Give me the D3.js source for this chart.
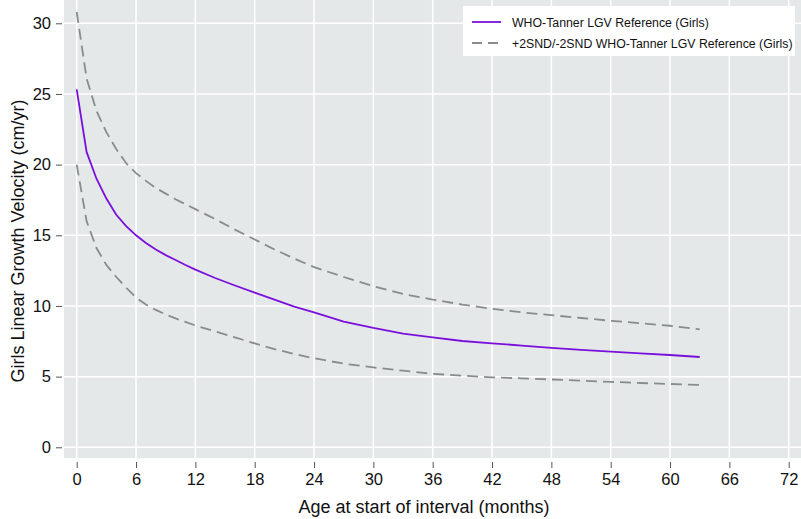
<!DOCTYPE html>
<html><head><meta charset="utf-8">
<script src="https://cdn.jsdelivr.net/npm/d3@7"></script>
<style>body{margin:0;background:#fff}svg{display:block}text{font-family:"Liberation Sans",Arial,sans-serif}</style>
</head><body>
<svg id="c" width="801" height="519"></svg>
<script>
const months = [0,1,2,3,4,5,6,7,8,9,10,11,12,14,16,18,20,22,24,27,30,33,36,39,42,45,48,51,54,57,60,63];
const median = [25.33,20.9,19.0,17.6,16.45,15.65,15.0,14.45,14.0,13.6,13.25,12.9,12.57,11.98,11.45,10.95,10.45,9.95,9.55,8.9,8.45,8.05,7.78,7.52,7.36,7.2,7.03,6.9,6.77,6.65,6.53,6.39];
const upper = [30.8,26.1,23.8,22.3,21.1,20.1,19.4,18.85,18.35,17.95,17.55,17.2,16.85,16.15,15.4,14.7,14.0,13.35,12.75,12.05,11.4,10.85,10.45,10.1,9.8,9.55,9.35,9.15,8.95,8.78,8.6,8.35];
const lower = [20.0,16.0,14.1,12.9,12.05,11.3,10.6,10.1,9.72,9.4,9.12,8.87,8.62,8.2,7.78,7.35,6.95,6.6,6.3,5.92,5.65,5.42,5.2,5.07,4.95,4.88,4.8,4.72,4.63,4.55,4.48,4.41];
const xTicks = [0,6,12,18,24,30,36,42,48,54,60,66,72];
const yTicks = [0,5,10,15,20,25,30];
const legendLabels = ["WHO-Tanner LGV Reference (Girls)","+2SND/-2SND WHO-Tanner LGV Reference (Girls)"];

const svg = d3.select("#c");
const L=64, R=801, T=0, B=458;
const x = d3.scaleLinear().domain([0,72]).range([76.7,788.7]);
const y = d3.scaleLinear().domain([0,30]).range([447.3,23.3]);

svg.append("rect").attr("x",L).attr("y",T).attr("width",R-L).attr("height",B-T).attr("fill","#e5e8e8");
const g = svg.append("g");
g.selectAll(".gx").data(xTicks).join("line").attr("x1",d=>x(d)).attr("x2",d=>x(d)).attr("y1",T).attr("y2",B).attr("stroke","#fff").attr("stroke-width",1.5);
g.selectAll(".gy").data(yTicks).join("line").attr("y1",d=>y(d)).attr("y2",d=>y(d)).attr("x1",L).attr("x2",R).attr("stroke","#fff").attr("stroke-width",1.5);

const xAxis = svg.append("g").attr("transform",`translate(0,${B+4})`)
  .call(d3.axisBottom(x).tickValues(xTicks).tickSize(6).tickPadding(5));
const yAxis = svg.append("g").attr("transform",`translate(${L-2},0)`)
  .call(d3.axisLeft(y).tickValues(yTicks).tickSize(6).tickPadding(5));
[xAxis,yAxis].forEach(a=>{
  a.select(".domain").remove();
  a.selectAll(".tick line").attr("stroke","#555").attr("stroke-width",1);
  a.selectAll(".tick text").attr("fill","#111").style("font-size","16.5px").style("font-family","'Liberation Sans',Arial,sans-serif");
});

const line = d3.line().x(d=>x(d[0])).y(d=>y(d[1]));
const grey="#878c8c", purple="#7a0fdc";
svg.append("path").datum(months.map((m,i)=>[m,upper[i]])).attr("d",line).attr("fill","none").attr("stroke",grey).attr("stroke-width",1.8).attr("stroke-dasharray","11,6");
svg.append("path").datum(months.map((m,i)=>[m,lower[i]])).attr("d",line).attr("fill","none").attr("stroke",grey).attr("stroke-width",1.8).attr("stroke-dasharray","11,6");
svg.append("path").datum(months.map((m,i)=>[m,median[i]])).attr("d",line).attr("fill","none").attr("stroke",purple).attr("stroke-width",1.8);

svg.append("text").attr("x",424).attr("y",513).attr("text-anchor","middle").style("font-size","18px").attr("fill","#111").text("Age at start of interval (months)");
svg.append("text").attr("transform",`translate(24,241) rotate(-90)`).attr("text-anchor","middle").style("font-size","18px").attr("fill","#111").text("Girls Linear Growth Velocity (cm/yr)");

const lg = svg.append("g");
lg.append("rect").attr("x",463).attr("y",6).attr("width",332).attr("height",50).attr("fill","#fff");
lg.append("line").attr("x1",472).attr("x2",501).attr("y1",22).attr("y2",22).attr("stroke",purple).attr("stroke-width",1.8);
lg.append("line").attr("x1",472).attr("x2",501).attr("y1",43).attr("y2",43).attr("stroke",grey).attr("stroke-width",1.8).attr("stroke-dasharray","10,6");
lg.selectAll(".lt").data(legendLabels).join("text").attr("x",512).attr("y",(d,i)=>22+i*21+4.5).style("font-size","12.3px").attr("fill","#111").text(d=>d);
</script>
</body></html>
